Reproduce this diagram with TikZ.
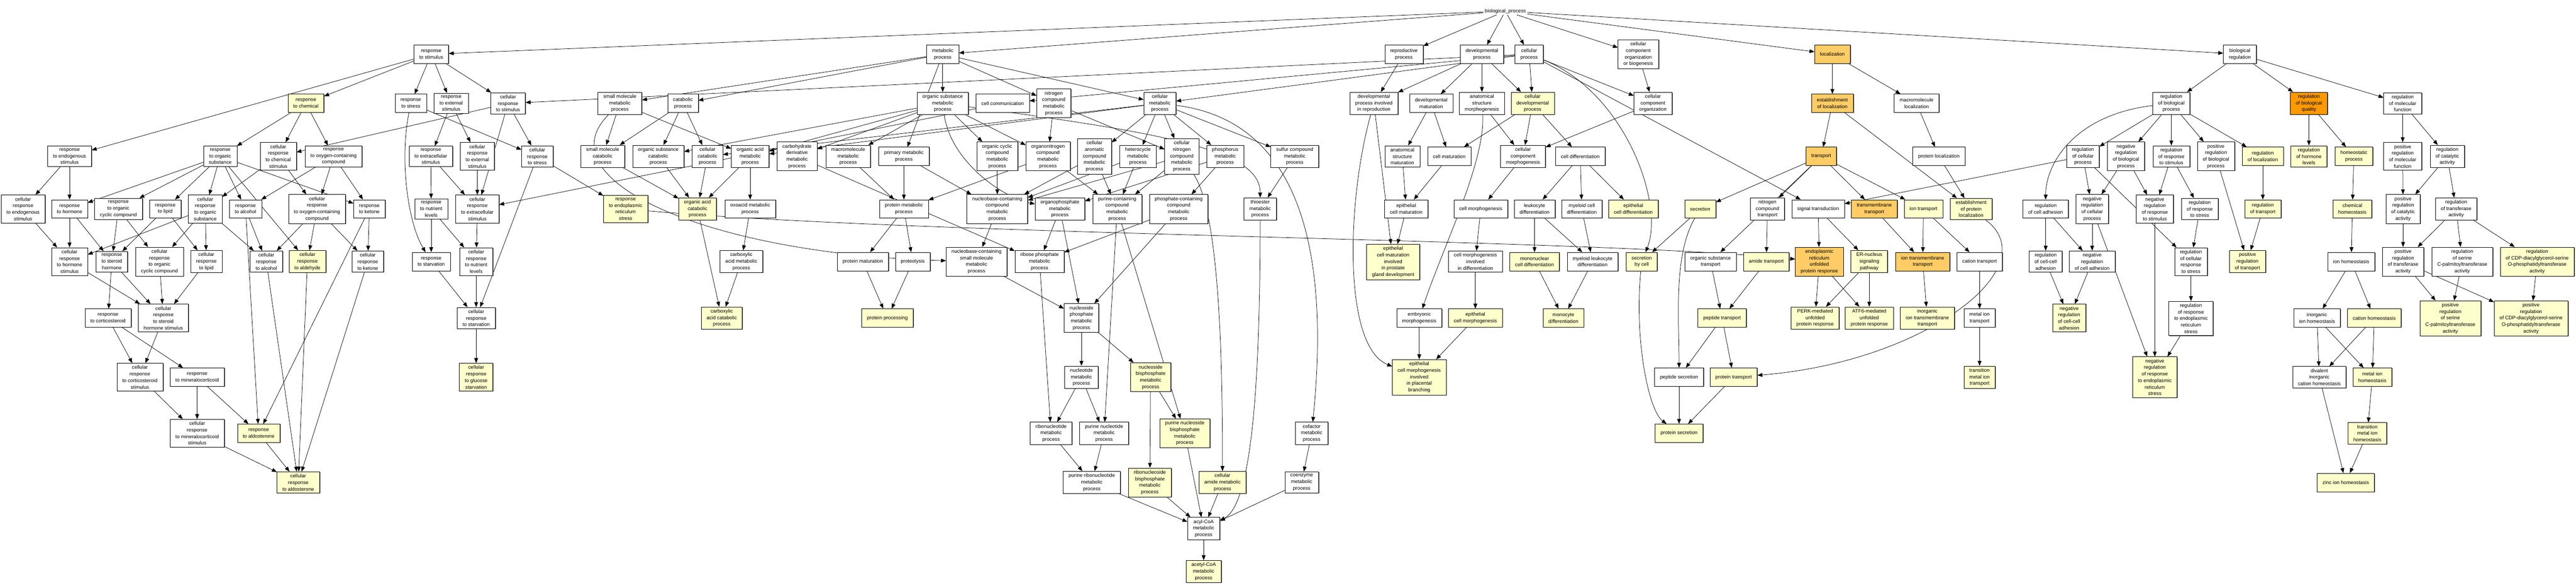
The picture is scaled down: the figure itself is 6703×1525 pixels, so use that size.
\documentclass[tikz,border=0pt]{standalone}
\usepackage{fontspec}
\setmainfont{Liberation Sans}
\usetikzlibrary{arrows.meta,shadows}
\definecolor{hitfill}{RGB}{255,255,204}
\definecolor{sigfill}{RGB}{255,204,102}
\definecolor{topfill}{RGB}{255,153,0}
\pgfdeclarelayer{edges}
\pgfsetlayers{edges,main}
\tikzset{
  term/.style={draw=black, line width=0.8pt, fill=white, align=center,
    inner xsep=14pt, inner ysep=6pt, minimum height=48pt,
    font=\fontsize{13}{17}\selectfont,
    drop shadow={shadow xshift=2pt,shadow yshift=-1pt,fill=black!55,opacity=1}},
  hit/.style={term, fill=hitfill},
  sighit/.style={term, fill=sigfill},
  tophit/.style={term, fill=topfill},
  link/.style={draw=black, line width=1pt, -{Triangle[length=13pt,width=10pt]}}
}
\begin{document}
\begin{tikzpicture}[x=1pt,y=-1pt]
\useasboundingbox (0,0) rectangle (6703,1525);
% top
\node[font=\fontsize{13}{17}\selectfont] (bp) at (3917,29) {biological\_process};
% row 1
\node[term] (respStim) at (1122,141) {response\\to stimulus};
\node[term] (metab) at (2453,141) {metabolic\\process};
\node[term] (reprod) at (3653,141) {reproductive\\process};
\node[term] (devel) at (3856,141) {developmental\\process};
\node[term] (cellProc) at (3979,141) {cellular\\process};
\node[term] (ccob) at (4263,141) {cellular\\component\\organization\\or biogenesis};
\node[sighit] (loc) at (4768,141) {localization};
\node[term] (bioReg) at (5828,141) {biological\\regulation};
% row 2
\node[hit] (respChem) at (796,269) {response\\to chemical};
\node[term] (respStress) at (1069,269) {response\\to stress};
\node[term] (respExt) at (1174,269) {response\\to external\\stimulus};
\node[term] (cellRespStim) at (1322,269) {cellular\\response\\to stimulus};
\node[term] (smallMol) at (1613,269) {small molecule\\metabolic\\process};
\node[term] (catab) at (1777,269) {catabolic\\process};
\node[term] (orgSubMet) at (2453,269) {organic substance\\metabolic\\process};
\node[term] (cellComm) at (2609,269) {cell communication};
\node[term] (nitroMet) at (2742,269) {nitrogen\\compound\\metabolic\\process};
\node[term] (cellMet) at (3018,269) {cellular\\metabolic\\process};
\node[term] (devReprod) at (3575,269) {developmental\\process involved\\in reproduction};
\node[term] (devMat) at (3724,269) {developmental\\maturation};
\node[term] (anatMorph) at (3856,269) {anatomical\\structure\\morphogenesis};
\node[hit] (cellDev) at (3988,269) {cellular\\developmental\\process};
\node[term] (ccOrg) at (4301,269) {cellular\\component\\organization};
\node[sighit] (estabLoc) at (4768,269) {establishment\\of localization};
\node[term] (macroLoc) at (4987,269) {macromolecule\\localization};
\node[term] (regBioProc) at (5650,269) {regulation\\of biological\\process};
\node[tophit] (regBioQual) at (6008,269) {regulation\\of biological\\quality};
\node[term] (regMolFunc) at (6252,269) {regulation\\of molecular\\function};
% row 3
\node[term] (respEndo) at (181,407) {response\\to endogenous\\stimulus};
\node[term] (respOrgSub) at (573,407) {response\\to organic\\substance};
\node[term] (cellRespChem) at (724,407) {cellular\\response\\to chemical\\stimulus};
\node[term] (respOxy) at (868,407) {response\\to oxygen-containing\\compound};
\node[term] (respExtra) at (1121,407) {response\\to extracellular\\stimulus};
\node[term] (cellRespExt) at (1242,407) {cellular\\response\\to external\\stimulus};
\node[term] (cellRespStress) at (1398,407) {cellular\\response\\to stress};
\node[term] (smallMolCat) at (1568,407) {small molecule\\catabolic\\process};
\node[term] (orgSubCat) at (1713,407) {organic substance\\catabolic\\process};
\node[term] (cellCat) at (1841,407) {cellular\\catabolic\\process};
\node[term] (orgAcidMet) at (1952,407) {organic acid\\metabolic\\process};
\node[term] (carbDeriv) at (2074,407) {carbohydrate\\derivative\\metabolic\\process};
\node[term] (macroMet) at (2207,407) {macromolecule\\metabolic\\process};
\node[term] (primMet) at (2352,407) {primary metabolic\\process};
\node[term] (orgCycMet) at (2595,407) {organic cyclic\\compound\\metabolic\\process};
\node[term] (orgNitMet) at (2727,407) {organonitrogen\\compound\\metabolic\\process};
\node[term] (cellArom) at (2848,407) {cellular\\aromatic\\compound\\metabolic\\process};
\node[term] (hetMet) at (2961,407) {heterocycle\\metabolic\\process};
\node[term] (cellNitMet) at (3075,407) {cellular\\nitrogen\\compound\\metabolic\\process};
\node[term] (phosMet) at (3188,407) {phosphorus\\metabolic\\process};
\node[term] (sulfMet) at (3369,407) {sulfur compound\\metabolic\\process};
\node[term] (anatMat) at (3649,407) {anatomical\\structure\\maturation};
\node[term] (cellMat) at (3771,407) {cell maturation};
\node[term] (ccMorph) at (3963,407) {cellular\\component\\morphogenesis};
\node[term] (cellDiff) at (4112,407) {cell differentiation};
\node[sighit] (transp) at (4739,407) {transport};
\node[term] (protLoc) at (5045,407) {protein localization};
\node[term] (regCellProc) at (5420,407) {regulation\\of cellular\\process};
\node[term] (negRegBio) at (5532,407) {negative\\regulation\\of biological\\process};
\node[term] (regRespStim) at (5650,407) {regulation\\of response\\to stimulus};
\node[term] (posRegBio) at (5766,407) {positive\\regulation\\of biological\\process};
\node[hit] (regLoc) at (5888,407) {regulation\\of localization};
\node[hit] (regHorm) at (6008,407) {regulation\\of hormone\\levels};
\node[hit] (homeo) at (6125,407) {homeostatic\\process};
\node[term] (posRegMolFunc) at (6252,407) {positive\\regulation\\of molecular\\function};
\node[term] (regCatal) at (6368,407) {regulation\\of catalytic\\activity};
% row 4
\node[term] (cellRespEndo) at (60,544) {cellular\\response\\to endogenous\\stimulus};
\node[term] (respHorm) at (181,544) {response\\to hormone};
\node[term] (respOrgCyc) at (308,544) {response\\to organic\\cyclic compound};
\node[term] (respLipid) at (430,544) {response\\to lipid};
\node[term] (cellRespOrgSub) at (534,544) {cellular\\response\\to organic\\substance};
\node[term] (respAlc) at (639,544) {response\\to alcohol};
\node[term] (cellRespOxy) at (825,544) {cellular\\response\\to oxygen-containing\\compound};
\node[term] (respKet) at (961,544) {response\\to ketone};
\node[term] (respNutr) at (1122,544) {response\\to nutrient\\levels};
\node[term] (cellRespExtra) at (1242,544) {cellular\\response\\to extracellular\\stimulus};
\node[hit] (respER) at (1628,544) {response\\to endoplasmic\\reticulum\\stress};
\node[hit] (orgAcidCat) at (1815,544) {organic acid\\catabolic\\process};
\node[term] (oxoMet) at (1952,544) {oxoacid metabolic\\process};
\node[term] (protMet) at (2352,544) {protein metabolic\\process};
\node[term] (nucMet) at (2595,544) {nucleobase-containing\\compound\\metabolic\\process};
\node[term] (orgPhos) at (2758,544) {organophosphate\\metabolic\\process};
\node[term] (purCont) at (2907,544) {purine-containing\\compound\\metabolic\\process};
\node[term] (phosCont) at (3067,544) {phosphate-containing\\compound\\metabolic\\process};
\node[term] (thioMet) at (3279,544) {thioester\\metabolic\\process};
\node[term] (epiCellMat) at (3659,544) {epithelial\\cell maturation};
\node[term] (cellMorph) at (3853,544) {cell morphogenesis};
\node[term] (leukDiff) at (3993,544) {leukocyte\\differentiation};
\node[term] (myelCellDiff) at (4116,544) {myeloid cell\\differentiation};
\node[hit] (epiCellDiff) at (4250,544) {epithelial\\cell differentiation};
\node[hit] (secr) at (4424,544) {secretion};
\node[term] (nitTransp) at (4599,544) {nitrogen\\compound\\transport};
\node[term] (sigTrans) at (4731,544) {signal transduction};
\node[sighit] (tmTransp) at (4877,544) {transmembrane\\transport};
\node[hit] (ionTransp) at (5005,544) {ion transport};
\node[hit] (estProtLoc) at (5129,544) {establishment\\of protein\\localization};
\node[term] (regCellAdh) at (5323,544) {regulation\\of cell adhesion};
\node[term] (negRegCellProc) at (5444,544) {negative\\regulation\\of cellular\\process};
\node[term] (negRegRespStim) at (5607,544) {negative\\regulation\\of response\\to stimulus};
\node[term] (regRespStress) at (5724,544) {regulation\\of response\\to stress};
\node[hit] (regTransp) at (5888,544) {regulation\\of transport};
\node[hit] (chemHomeo) at (6121,544) {chemical\\homeostasis};
\node[term] (posRegCatal) at (6253,544) {positive\\regulation\\of catalytic\\activity};
\node[term] (regTransf) at (6391,544) {regulation\\of transferase\\activity};
% row 5
\node[term] (cellRespHorm) at (181,681) {cellular\\response\\to hormone\\stimulus};
\node[term] (respSter) at (291,681) {response\\to steroid\\hormone};
\node[term] (cellRespOrgCyc) at (415,681) {cellular\\response\\to organic\\cyclic compound};
\node[term] (cellRespLipid) at (537,681) {cellular\\response\\to lipid};
\node[term] (cellRespAlc) at (693,681) {cellular\\response\\to alcohol};
\node[hit] (cellRespAld) at (800,681) {cellular\\response\\to aldehyde};
\node[term] (cellRespKet) at (957,681) {cellular\\response\\to ketone};
\node[term] (respStarv) at (1122,681) {response\\to starvation};
\node[term] (cellRespNutr) at (1239,681) {cellular\\response\\to nutrient\\levels};
\node[term] (carbMet) at (1929,681) {carboxylic\\acid metabolic\\process};
\node[term] (protMat) at (2245,681) {protein maturation};
\node[term] (proteol) at (2375,681) {proteolysis};
\node[term] (nucSmall) at (2541,681) {nucleobase-containing\\small molecule\\metabolic\\process};
\node[term] (ribPhos) at (2705,681) {ribose phosphate\\metabolic\\process};
\node[hit] (epiProst) at (3625,682) {epithelial\\cell maturation\\involved\\in prostate\\gland development};
\node[term] (cellMorphDiff) at (3839,681) {cell morphogenesis\\involved\\in differentiation};
\node[hit] (mononuc) at (3993,681) {mononuclear\\cell differentiation};
\node[term] (myelLeuk) at (4144,681) {myeloid leukocyte\\differentiation};
\node[hit] (secrCell) at (4272,681) {secretion\\by cell};
\node[term] (orgSubTransp) at (4451,681) {organic substance\\transport};
\node[hit] (amideTransp) at (4596,681) {amide transport};
\node[sighit] (erUPR) at (4734,681) {endoplasmic\\reticulum\\unfolded\\protein response};
\node[hit] (erNuc) at (4864,681) {ER-nucleus\\signaling\\pathway};
\node[sighit] (ionTm) at (5003,681) {ion transmembrane\\transport};
\node[term] (cationTransp) at (5151,681) {cation transport};
\node[term] (regCCAdh) at (5323,681) {regulation\\of cell-cell\\adhesion};
\node[term] (negRegCellAdh) at (5444,681) {negative\\regulation\\of cell adhesion};
\node[term] (regCellRespStress) at (5701,681) {regulation\\of cellular\\response\\to stress};
\node[hit] (posRegTransp) at (5848,681) {positive\\regulation\\of transport};
\node[term] (ionHomeo) at (6118,681) {ion homeostasis};
\node[term] (posRegTransf) at (6253,681) {positive\\regulation\\of transferase\\activity};
\node[term] (regSerine) at (6407,681) {regulation\\of serine\\C-palmitoyltransferase\\activity};
\node[hit] (regCDP) at (6602,681) {regulation\\of CDP-diacylglycerol-serine\\O-phosphatidyltransferase\\activity};
% row 6
\node[term] (respCort) at (281,828) {response\\to corticosteroid};
\node[term] (cellRespSter) at (425,828) {cellular\\response\\to steroid\\hormone stimulus};
\node[term] (cellRespStarv) at (1239,828) {cellular\\response\\to starvation};
\node[hit] (carbCat) at (1878,828) {carboxylic\\acid catabolic\\process};
\node[hit] (protProc) at (2309,828) {protein processing};
\node[term] (nucPhos) at (2814,828) {nucleoside\\phosphate\\metabolic\\process};
\node[term] (embMorph) at (3693,828) {embryonic\\morphogenesis};
\node[hit] (epiCellMorph) at (3839,828) {epithelial\\cell morphogenesis};
\node[hit] (monoDiff) at (4068,828) {monocyte\\differentiation};
\node[hit] (peptTransp) at (4481,828) {peptide transport};
\node[hit] (perk) at (4723,828) {PERK-mediated\\unfolded\\protein response};
\node[hit] (atf6) at (4864,828) {ATF6-mediated\\unfolded\\protein response};
\node[hit] (inorgIonTm) at (5015,828) {inorganic\\ion transmembrane\\transport};
\node[term] (metalIonTransp) at (5151,828) {metal ion\\transport};
\node[hit] (negRegCCAdh) at (5384,828) {negative\\regulation\\of cell-cell\\adhesion};
\node[term] (regRespER) at (5701,829) {regulation\\of response\\to endoplasmic\\reticulum\\stress};
\node[term] (inorgIonHomeo) at (6029,828) {inorganic\\ion homeostasis};
\node[hit] (cationHomeo) at (6178,828) {cation homeostasis};
\node[hit] (posRegSerine) at (6376,829) {positive\\regulation\\of serine\\C-palmitoyltransferase\\activity};
\node[hit] (posRegCDP) at (6586,829) {positive\\regulation\\of CDP-diacylglycerol-serine\\O-phosphatidyltransferase\\activity};
% row 7
\node[term] (cellRespCort) at (364,982) {cellular\\response\\to corticosteroid\\stimulus};
\node[term] (respMin) at (513,982) {response\\to mineralocorticoid};
\node[hit] (cellRespGluc) at (1239,982) {cellular\\response\\to glucose\\starvation};
\node[term] (nucleotMet) at (2814,982) {nucleotide\\metabolic\\process};
\node[hit] (nucBis) at (2994,982) {nucleoside\\bisphosphate\\metabolic\\process};
\node[hit] (epiPlac) at (3693,982) {epithelial\\cell morphogenesis\\involved\\in placental\\branching};
\node[term] (peptSecr) at (4369,982) {peptide secretion};
\node[hit] (protTransp) at (4511,982) {protein transport};
\node[hit] (transMetalTransp) at (5151,982) {transition\\metal ion\\transport};
\node[hit] (negRegRespER) at (5607,982) {negative\\regulation\\of response\\to endoplasmic\\reticulum\\stress};
\node[term] (divalent) at (6035,982) {divalent\\inorganic\\cation homeostasis};
\node[hit] (metalIonHomeo) at (6173,982) {metal ion\\homeostasis};
% row 8
\node[term] (cellRespMin) at (513,1128) {cellular\\response\\to mineralocorticoid\\stimulus};
\node[hit] (respAldo) at (673,1128) {response\\to aldosterone};
\node[term] (ribonucMet) at (2735,1128) {ribonucleotide\\metabolic\\process};
\node[term] (purNucMet) at (2873,1128) {purine nucleotide\\metabolic\\process};
\node[hit] (purNucBis) at (3083,1128) {purine nucleoside\\bisphosphate\\metabolic\\process};
\node[term] (cofMet) at (3413,1128) {cofactor\\metabolic\\process};
\node[hit] (protSecr) at (4369,1128) {protein secretion};
\node[hit] (transMetalHomeo) at (6160,1128) {transition\\metal ion\\homeostasis};
% row 9 to 11
\node[hit] (cellRespAldo) at (776,1256) {cellular\\response\\to aldosterone};
\node[term] (purRibMet) at (2841,1256) {purine ribonucleotide\\metabolic\\process};
\node[hit] (ribBis) at (2992,1256) {ribonucleoside\\bisphosphate\\metabolic\\process};
\node[hit] (cellAmide) at (3181,1256) {cellular\\amide metabolic\\process};
\node[term] (coenzMet) at (3387,1256) {coenzyme\\metabolic\\process};
\node[hit] (zincHomeo) at (6104,1256) {zinc ion homeostasis};
\node[term] (acylCoA) at (3132,1376) {acyl-CoA\\metabolic\\process};
\node[hit] (acetylCoA) at (3132,1488) {acetyl-CoA\\metabolic\\process};
\begin{pgfonlayer}{edges}
\fill[white] (0,0) rectangle (6703,1525);
\foreach \a/\b in {bp/respStim, bp/metab, bp/reprod, bp/devel, bp/cellProc, bp/ccob, bp/loc, bp/bioReg,
  respStim/respEndo, respStim/respChem, respStim/respStress, respStim/respExt, respStim/cellRespStim,
  metab/smallMol, metab/catab, metab/orgSubMet, metab/primMet, metab/nitroMet, metab/cellMet,
  cellProc/cellRespStim, cellProc/cellMet, cellProc/cellComm, cellProc/cellDev, cellProc/ccOrg, cellProc/sigTrans,
  ccob/ccOrg, reprod/devReprod, devel/devReprod, devel/devMat, devel/anatMorph, devel/cellDev,
  loc/estabLoc, loc/macroLoc, bioReg/regBioProc, bioReg/regBioQual, bioReg/regMolFunc,
  respChem/respOrgSub, respChem/cellRespChem, respChem/respOxy, respStress/cellRespStress,
  respExt/respExtra, respExt/cellRespExt,
  cellRespStim/cellRespStress, cellRespStim/cellRespExtra, cellRespStim/cellRespChem,
  smallMol/smallMolCat, smallMol/orgAcidMet, catab/orgSubCat, catab/cellCat, catab/smallMolCat,
  orgSubMet/orgSubCat, orgSubMet/orgAcidMet, orgSubMet/carbDeriv, orgSubMet/macroMet, orgSubMet/orgCycMet, orgSubMet/orgNitMet,
  cellComm/cellRespExtra, nitroMet/orgNitMet, nitroMet/cellNitMet,
  cellMet/cellCat, cellMet/orgAcidMet, cellMet/cellArom, cellMet/hetMet, cellMet/cellNitMet, cellMet/phosMet, cellMet/sulfMet,
  devReprod/epiProst, devMat/anatMat, devMat/cellMat, anatMorph/ccMorph,
  cellDev/cellMat, cellDev/ccMorph, cellDev/cellDiff, ccOrg/ccMorph,
  estabLoc/transp, estabLoc/estProtLoc, macroLoc/protLoc,
  regBioProc/regCellProc, regBioProc/negRegBio, regBioProc/regRespStim, regBioProc/posRegBio, regBioProc/regLoc,
  regBioQual/regHorm, regBioQual/homeo, regMolFunc/posRegMolFunc, regMolFunc/regCatal,
  respEndo/cellRespEndo, respEndo/respHorm,
  respOrgSub/respHorm, respOrgSub/respOrgCyc, respOrgSub/respLipid, respOrgSub/cellRespOrgSub, respOrgSub/respAlc, respOrgSub/cellRespAld, respOrgSub/respKet,
  cellRespChem/cellRespOrgSub, cellRespChem/cellRespOxy, respOxy/respAlc, respOxy/cellRespOxy, respOxy/respKet,
  respExtra/respNutr, respExtra/cellRespExtra, cellRespExt/cellRespExtra,
  cellRespStress/respER, cellRespStress/cellRespStarv,
  smallMolCat/orgAcidCat, orgSubCat/orgAcidCat, cellCat/orgAcidCat, orgAcidMet/orgAcidCat, orgAcidMet/oxoMet,
  carbDeriv/ribPhos, macroMet/protMet, primMet/protMet, primMet/nucMet, orgCycMet/nucMet,
  orgNitMet/protMet, orgNitMet/purCont, cellArom/purCont, cellArom/nucMet, hetMet/purCont, hetMet/nucMet,
  cellNitMet/purCont, cellNitMet/nucMet, phosMet/phosCont, phosMet/orgPhos, sulfMet/thioMet,
  anatMat/epiCellMat, cellMat/epiCellMat, ccMorph/cellMorph,
  cellDiff/leukDiff, cellDiff/myelCellDiff, cellDiff/epiCellDiff,
  transp/nitTransp, transp/tmTransp, transp/ionTransp, transp/secr, transp/orgSubTransp, protLoc/estProtLoc,
  regCellProc/negRegCellProc, regCellProc/regCellRespStress, regCellProc/sigTrans,
  negRegBio/negRegCellProc, negRegBio/negRegRespStim, regRespStim/negRegRespStim, regRespStim/regRespStress,
  posRegBio/posRegTransp, regLoc/regTransp, homeo/chemHomeo,
  posRegMolFunc/posRegCatal, regCatal/posRegCatal, regCatal/regTransf,
  cellRespEndo/cellRespHorm, respHorm/cellRespHorm, respHorm/respSter,
  respOrgCyc/respSter, respOrgCyc/cellRespOrgCyc, respLipid/respSter, respLipid/cellRespLipid,
  cellRespOrgSub/cellRespHorm, cellRespOrgSub/cellRespOrgCyc, cellRespOrgSub/cellRespLipid, cellRespOrgSub/cellRespAlc,
  respAlc/cellRespAlc, respAlc/respAldo, cellRespOxy/cellRespAlc, cellRespOxy/cellRespAld, cellRespOxy/cellRespKet,
  respKet/cellRespKet, respKet/respAldo, respNutr/respStarv, respNutr/cellRespNutr, cellRespExtra/cellRespNutr,
  orgAcidCat/carbCat, oxoMet/carbMet, protMet/protMat, protMet/proteol, nucMet/nucSmall,
  orgPhos/ribPhos, orgPhos/nucPhos, purCont/purNucMet, purCont/purNucBis, phosCont/nucPhos, phosCont/ribPhos,
  epiCellMat/epiProst, cellMorph/cellMorphDiff, leukDiff/mononuc, leukDiff/myelLeuk, myelCellDiff/myelLeuk,
  secr/secrCell, nitTransp/amideTransp, sigTrans/erUPR, sigTrans/erNuc,
  tmTransp/ionTm, ionTransp/ionTm, ionTransp/cationTransp,
  regCellAdh/regCCAdh, regCellAdh/negRegCellAdh, negRegCellProc/negRegCellAdh, negRegCellProc/negRegRespER,
  negRegRespStim/negRegRespER, regRespStress/regCellRespStress, regTransp/posRegTransp,
  chemHomeo/ionHomeo, posRegCatal/posRegTransf, regTransf/posRegTransf, regTransf/regSerine, regTransf/regCDP,
  cellRespHorm/cellRespSter, respSter/respCort, respSter/cellRespSter, cellRespOrgCyc/cellRespSter, cellRespLipid/cellRespSter,
  cellRespAlc/cellRespAldo, cellRespAld/cellRespAldo, cellRespKet/cellRespAldo,
  respStarv/cellRespStarv, cellRespNutr/cellRespStarv, carbMet/carbCat, protMat/protProc, proteol/protProc,
  nucSmall/nucPhos, ribPhos/ribonucMet, cellMorphDiff/epiCellMorph, mononuc/monoDiff, myelLeuk/monoDiff,
  orgSubTransp/peptTransp, amideTransp/peptTransp, erUPR/perk, erUPR/atf6, erNuc/perk, erNuc/atf6,
  ionTm/inorgIonTm, cationTransp/metalIonTransp, regCCAdh/negRegCCAdh, negRegCellAdh/negRegCCAdh,
  regCellRespStress/regRespER, ionHomeo/inorgIonHomeo, ionHomeo/cationHomeo,
  posRegTransf/posRegSerine, posRegTransf/posRegCDP, regSerine/posRegSerine, regCDP/posRegCDP,
  respCort/cellRespCort, respCort/respMin, cellRespSter/cellRespCort, cellRespStarv/cellRespGluc,
  nucPhos/nucleotMet, nucPhos/nucBis, embMorph/epiPlac, epiCellMorph/epiPlac,
  peptTransp/peptSecr, peptTransp/protTransp, metalIonTransp/transMetalTransp, regRespER/negRegRespER,
  inorgIonHomeo/divalent, inorgIonHomeo/metalIonHomeo, cationHomeo/divalent, cationHomeo/metalIonHomeo,
  cellRespCort/cellRespMin, respMin/cellRespMin, respMin/respAldo,
  nucleotMet/ribonucMet, nucleotMet/purNucMet, nucBis/ribBis, nucBis/purNucBis,
  peptSecr/protSecr, protTransp/protSecr, divalent/zincHomeo, metalIonHomeo/transMetalHomeo,
  cellRespMin/cellRespAldo, respAldo/cellRespAldo, ribonucMet/purRibMet, purNucMet/purRibMet,
  purNucBis/acylCoA, cofMet/coenzMet, transMetalHomeo/zincHomeo,
  purRibMet/acylCoA, ribBis/acylCoA, cellAmide/acylCoA, coenzMet/acylCoA, acylCoA/acetylCoA}
  \draw[link] (\a) -- (\b);
% curved connectors
\draw[link] (smallMol) .. controls +(-200,200) and +(-700,-20) .. (nucSmall);
\draw[link] (respStress) .. controls +(-30,150) and +(-60,-100) .. (respStarv);
\draw[link] (devReprod) .. controls +(-70,250) and +(-200,-80) .. (epiPlac);
\draw[link] (anatMorph) .. controls +(10,150) and +(60,-180) .. (embMorph);
\draw[link] (cellProc) .. controls +(250,100) and +(60,-150) .. (secrCell);
\draw[link] (secr) .. controls +(-70,120) and +(0,-150) .. (peptSecr);
\draw[link] (secrCell) .. controls +(-20,200) and +(-80,-60) .. (protSecr);
\draw[link] (estProtLoc) .. controls +(200,150) and +(500,-40) .. (protTransp);
\draw[link] (respER) .. controls +(800,70) and +(-600,-60) .. (erUPR);
\draw[link] (cellNitMet) .. controls +(100,150) and +(0,-300) .. (cellAmide);
\draw[link] (thioMet) .. controls +(0,500) and +(120,-60) .. (acylCoA);
\draw[link] (orgSubMet) .. controls +(20,150) and +(-150,-30) .. (orgPhos);
\draw[link] (cellMet) .. controls +(400,50) and +(40,-400) .. (cofMet);
\draw[link] (orgSubMet) .. controls +(600,80) and +(0,-150) .. (thioMet);
\draw[link] (regBioProc) .. controls +(-250,30) and +(0,-120) .. (regCellAdh);
\end{pgfonlayer}
\end{tikzpicture}
\end{document}
